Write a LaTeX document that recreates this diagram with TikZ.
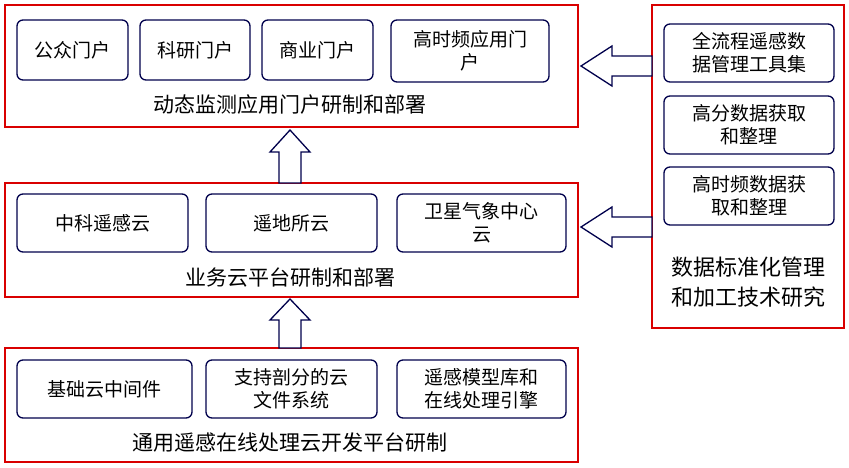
\documentclass[tikz,border=0pt]{standalone}
\usepackage{fontspec}
\newfontfamily\cjk{Noto Sans CJK SC}
\begin{document}
\begin{tikzpicture}[x=1pt,y=-1pt,
  red/.style={draw=red!85!black,line width=1.3pt},
  inner/.style={draw=blue!30!black,line width=1.3pt,rounded corners=6pt,align=center,font=\cjk\fontsize{19}{23}\selectfont},
  lab/.style={font=\cjk\fontsize{21}{25}\selectfont,align=center},
  harrow/.style={draw=blue!30!black,line width=1.3pt,fill=white}]
\useasboundingbox (0,0) rectangle (849,467);
\draw[red] (5,5) rectangle (578,127);
\draw[red] (5,183) rectangle (578,297);
\draw[red] (5,348) rectangle (578,462);
\draw[red] (652,5) rectangle (844,328);
\def\ib#1#2#3#4#5#6{\draw[inner] (#2,#3) rectangle (#4,#5) node[midway] (#1) {#6};}
\ib{a1}{17}{20}{128}{80}{公众门户}
\ib{a2}{140}{20}{250}{80}{科研门户}
\ib{a3}{262}{20}{373}{80}{商业门户}
\ib{a4}{391}{20}{549}{82}{高时频应用门\\户}
\node[lab] (l1) at (290,105) {动态监测应用门户研制和部署};
\ib{b1}{17}{194}{188}{252}{中科遥感云}
\ib{b2}{206}{194}{377}{252}{遥地所云}
\ib{b3}{397}{194}{566}{252}{卫星气象中心\\云}
\node[lab] (l2) at (290,278) {业务云平台研制和部署};
\ib{c1}{17}{360}{192}{418}{基础云中间件}
\ib{c2}{206}{360}{377}{418}{支持剖分的云\\文件系统}
\ib{c3}{397}{360}{566}{418}{遥感模型库和\\在线处理引擎}
\node[lab] (l3) at (290,443) {通用遥感在线处理云开发平台研制};
\ib{d1}{664}{24}{834}{82}{全流程遥感数\\据管理工具集}
\ib{d2}{664}{96}{834}{154}{高分数据获取\\和整理}
\ib{d3}{664}{167}{834}{225}{高时频数据获\\取和整理}
\node[lab,font=\cjk\fontsize{22}{30}\selectfont] (l4) at (748,282) {数据标准化管理\\和加工技术研究};
\draw[harrow] (279,183)--(279,152)--(270,152)--(290,130)--(310,152)--(301,152)--(301,183)--cycle;
\draw[harrow] (279,348)--(279,320)--(270,320)--(290,299)--(310,320)--(301,320)--(301,348)--cycle;
\draw[harrow] (652,56)--(612,56)--(612,46)--(581,66)--(612,86)--(612,76)--(652,76)--cycle;
\draw[harrow] (652,217)--(612,217)--(612,207)--(581,227)--(612,247)--(612,237)--(652,237)--cycle;
\end{tikzpicture}
\end{document}
